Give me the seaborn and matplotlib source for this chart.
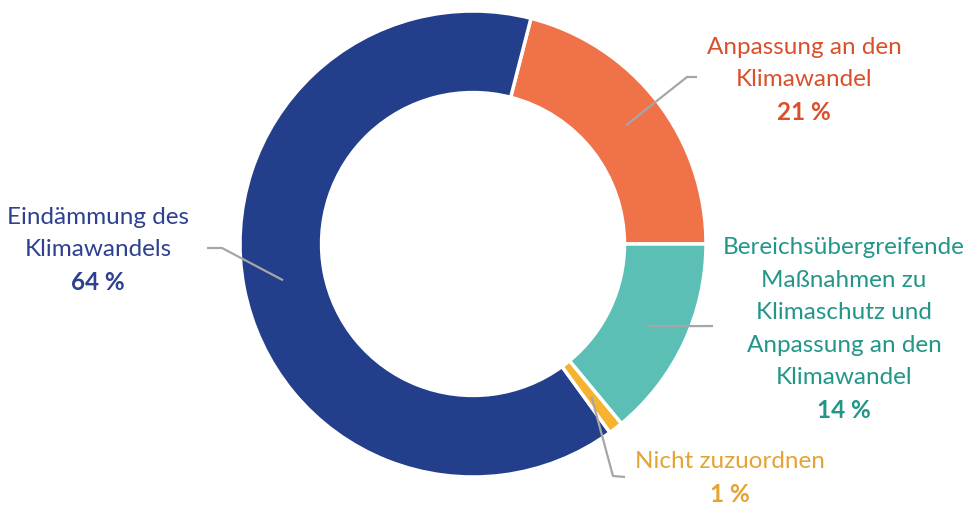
import numpy as np
import matplotlib
matplotlib.use("Agg")
import matplotlib.pyplot as plt
import seaborn as sns

# data (counter-clockwise from 3 o'clock)
categories = ["Anpassung an den\nKlimawandel",
              "Eindämmung des\nKlimawandels",
              "Nicht zuzuordnen",
              "Bereichsübergreifende\nMaßnahmen zu\nKlimaschutz und\nAnpassung an den\nKlimawandel"]
shares = [21, 64, 1, 14]
slice_colors = ["#F07249", "#233E8B", "#F5B330", "#5BBFB5"]
text_colors = ["#D9502C", "#2E4190", "#E5A332", "#23968A"]

sns.set_theme(style="white")
plt.rcParams["font.family"] = ["Lato", "DejaVu Sans"]

R = 233.0  # outer radius in pixels
CX, CY = 473.0, 245.0


def px(x, y):
    # pixel position (from top-left) -> data coords
    return (x - CX) / R, (CY - y) / R


fig = plt.figure(figsize=(9.69, 5.06), dpi=100)
ax = fig.add_axes([0, 0, 1, 1])

wedges, _ = ax.pie(shares, colors=slice_colors, startangle=0, counterclock=True,
                   radius=1.0, wedgeprops=dict(width=0.35, edgecolor="white", linewidth=2.5))

ax.set_xlim(-CX / R, (969 - CX) / R)
ax.set_ylim(-(506 - CY) / R, CY / R)
ax.set_aspect("auto")
ax.axis("off")

# label layout: text centre, elbow and end of leader line (pixels)
label_pos = [(804, 80), (98, 250), (730, 478), (844, 329)]
leader_pts = [[(687, 78), (697, 78)],
              [(222, 249), (207, 249)],
              [(613, 477), (625, 478)],
              [(713, 327)]]

for w, name, val, tc, lp, lpts in zip(wedges, categories, shares, text_colors, label_pos, leader_pts):
    mid = np.deg2rad((w.theta1 + w.theta2) / 2)
    start = (0.83 * np.cos(mid), 0.83 * np.sin(mid))
    pts = [start] + [px(*p) for p in lpts]
    xs, ys = zip(*pts)
    ax.plot(xs, ys, color="#A6A6A6", lw=1.6, solid_capstyle="butt")

    n = name.count("\n") + 1
    line_h = 32.5
    tx, ty = lp
    top = ty - n * line_h / 2
    for i, line in enumerate(name.split("\n")):
        ax.text(*px(tx, top + i * line_h), line, color=tc, fontsize=17.5,
                ha="center", va="center")
    ax.text(*px(tx, top + n * line_h), f"{val} %", color=tc, fontsize=17.5,
            fontweight="bold", ha="center", va="center")

fig.savefig("out.png", dpi=100, facecolor="white")
